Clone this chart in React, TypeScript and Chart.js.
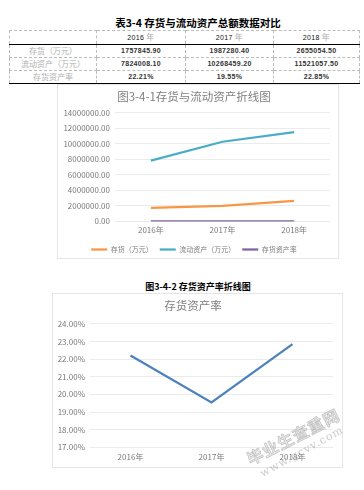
import React, { useEffect, useRef } from 'react';
import { Chart, registerables } from 'chart.js';
Chart.register(...registerables);

const yearLabels = ['2016', '2017', '2018'];
const inventory = [1757845.9, 1987280.4, 2655054.5];
const currentAssets = [7824008.1, 10268459.2, 11521057.5];
const inventoryRatio = [22.21, 19.55, 22.85];
const seriesNames = ['存货（万元）', '流动资产（万元）', '存货资产率'];
const rowNames = ['存货（万元）', '流动资产（万元）', '存货资产率'];
const seriesColors = ['#F79646', '#4BACC6', '#8064A2'];
const ratioColor = '#4F81BD';
const chart1Title = '图3-4-1存货与流动资产折线图';
const chart2Title = '存货资产率';
const tableTitle = '表3-4 存货与流动资产总额数据对比';
const figure2Caption = '图3-4-2 存货资产率折线图';
const y1Max = 14000000;
const y1Step = 2000000;
const y2Min = 17;
const y2Max = 24;
const y2Step = 1;

const FONT = '"Noto Sans CJK SC", "Noto Sans", sans-serif';
const GRAY = '#7a7a7a';
const TITLE_GRAY = '#808080';
const GRID = '#ebebeb';

function useChart(ref: React.RefObject<HTMLCanvasElement>, makeConfig: () => any) {
  useEffect(() => {
    if (!ref.current) return;
    const chart = new Chart(ref.current, makeConfig());
    return () => chart.destroy();
  }, []);
}

function Chart1() {
  const ref = useRef<HTMLCanvasElement>(null);
  useChart(ref, () => ({
    type: 'line',
    data: {
      labels: yearLabels.map((y) => y + '年'),
      datasets: [
        { label: seriesNames[0], data: inventory },
        { label: seriesNames[1], data: currentAssets },
        { label: seriesNames[2], data: inventoryRatio.map((v) => v / 100) },
      ].map((d, i) => ({
        ...d,
        borderColor: seriesColors[i],
        backgroundColor: seriesColors[i],
        borderWidth: 2.25,
        pointRadius: 0,
        tension: 0,
      })),
    },
    options: {
      animation: false,
      responsive: false,
      layout: { padding: { left: 0, right: 8, top: 0, bottom: -5 } },
      plugins: {
        title: {
          display: true,
          text: chart1Title,
          color: TITLE_GRAY,
          font: { family: FONT, size: 11.5, weight: 'normal' },
          padding: { top: 5, bottom: 9 },
        },
        legend: {
          position: 'bottom',
          labels: {
            usePointStyle: true,
            pointStyle: 'line',
            pointStyleWidth: 16,
            boxHeight: 7,
            color: GRAY,
            font: { family: FONT, size: 7 },
            padding: 7,
          },
        },
        tooltip: { enabled: false },
      },
      scales: {
        x: {
          offset: true,
          grid: { display: false, drawTicks: false },
          border: { display: false },
          ticks: { color: GRAY, font: { family: FONT, size: 8 }, padding: 4 },
        },
        y: {
          min: 0,
          max: y1Max,
          ticks: {
            stepSize: y1Step,
            color: GRAY,
            font: { family: FONT, size: 8 },
            padding: 5,
            callback: (v: any) => Number(v).toFixed(2),
          },
          grid: { color: GRID, drawTicks: false },
          border: { display: false },
          afterFit: (s: any) => {
            s.width = 57;
          },
        },
      },
    },
  }));
  return <canvas ref={ref} width={280} height={173} style={{ display: 'block' }} />;
}

function Chart2() {
  const ref = useRef<HTMLCanvasElement>(null);
  useChart(ref, () => ({
    type: 'line',
    data: {
      labels: yearLabels.map((y) => y + '年'),
      datasets: [
        {
          label: seriesNames[2],
          data: inventoryRatio,
          borderColor: ratioColor,
          backgroundColor: ratioColor,
          borderWidth: 2.25,
          pointRadius: 0,
          tension: 0,
        },
      ],
    },
    options: {
      animation: false,
      responsive: false,
      layout: { padding: { left: 0, right: 9, top: 0, bottom: 0 } },
      plugins: {
        title: {
          display: true,
          text: chart2Title,
          color: TITLE_GRAY,
          font: { family: FONT, size: 11.5, weight: 'normal' },
          padding: { top: 5, bottom: 11 },
        },
        legend: { display: false },
        tooltip: { enabled: false },
      },
      scales: {
        x: {
          offset: true,
          grid: { display: false, drawTicks: false },
          border: { display: false },
          ticks: { color: GRAY, font: { family: FONT, size: 8 }, padding: 5 },
        },
        y: {
          min: y2Min,
          max: y2Max,
          ticks: {
            stepSize: y2Step,
            color: GRAY,
            font: { family: FONT, size: 8 },
            padding: 5,
            callback: (v: any) => Number(v).toFixed(2) + '%',
          },
          grid: { color: GRID, drawTicks: false },
          border: { display: false },
          afterFit: (s: any) => {
            s.width = 37;
          },
        },
      },
    },
  }));
  return <canvas ref={ref} width={289} height={173} style={{ display: 'block' }} />;
}

const dash = '1px dashed #bdbdbd';
const cellBase: React.CSSProperties = {
  height: 12,
  padding: 0,
  textAlign: 'center',
  verticalAlign: 'middle',
  borderLeft: dash,
  borderRight: dash,
  borderBottom: dash,
  lineHeight: '12px',
  whiteSpace: 'nowrap',
};

function DataTable() {
  const rows = [
    inventory.map((v) => v.toFixed(2)),
    currentAssets.map((v) => v.toFixed(2)),
    inventoryRatio.map((v) => v.toFixed(2) + '%'),
  ];
  const numStyle: React.CSSProperties = {
    ...cellBase,
    fontFamily: '"Liberation Sans", sans-serif',
    fontSize: 7,
    fontWeight: 'bold',
    color: '#333',
    letterSpacing: 0.3,
  };
  const labelStyle: React.CSSProperties = {
    ...cellBase,
    fontFamily: FONT,
    fontSize: 8,
    color: '#b0b0b0',
  };
  return (
    <table
      style={{
        position: 'absolute',
        left: 9,
        top: 30,
        width: 350,
        borderCollapse: 'collapse',
        tableLayout: 'fixed',
      }}
    >
      <colgroup>
        <col style={{ width: 87 }} />
        <col style={{ width: 89 }} />
        <col style={{ width: 88 }} />
        <col style={{ width: 86 }} />
      </colgroup>
      <tbody>
        <tr>
          <td style={{ ...labelStyle, borderTop: dash, borderBottom: '1.5px solid #000' }}></td>
          {yearLabels.map((y) => (
            <td key={y} style={{ ...numStyle, fontWeight: 'normal', color: '#111', borderTop: dash, borderBottom: '1.5px solid #000' }}>
              {y} <span style={{ fontFamily: FONT, fontSize: 8, color: '#aaa' }}>年</span>
            </td>
          ))}
        </tr>
        {rows.map((r, i) => (
          <tr key={i}>
            <td style={{ ...labelStyle, borderBottom: i === rows.length - 1 ? '1.5px solid #000' : dash }}>{rowNames[i]}</td>
            {r.map((v, j) => (
              <td key={j} style={{ ...numStyle, borderBottom: i === rows.length - 1 ? '1.5px solid #000' : dash }}>
                {v}
              </td>
            ))}
          </tr>
        ))}
      </tbody>
    </table>
  );
}

export default function App() {
  return (
    <div style={{ position: 'absolute', left: 0, top: 0, width: 364, height: 490, background: '#fff', overflow: 'hidden' }}>
      <div
        style={{
          position: 'absolute',
          left: 0,
          width: 364,
          textAlign: 'center',
          top: 16,
          fontFamily: FONT,
          fontWeight: 'bold',
          fontSize: 10.5,
          lineHeight: '14px',
          color: '#000',
          paddingLeft: 32,
          boxSizing: 'border-box',
        }}
      >
        {tableTitle}
      </div>
      <DataTable />
      <div style={{ position: 'absolute', left: 57, top: 84, border: '1px solid #e6e6e6' }}>
        <Chart1 />
      </div>
      <div
        style={{
          position: 'absolute',
          left: 0,
          width: 364,
          textAlign: 'center',
          top: 280,
          fontFamily: FONT,
          fontWeight: 'bold',
          fontSize: 9,
          lineHeight: '14px',
          color: '#000',
          paddingLeft: 32,
          boxSizing: 'border-box',
        }}
      >
        {figure2Caption}
      </div>
      <div style={{ position: 'absolute', left: 52, top: 293, border: '1px solid #e6e6e6' }}>
        <Chart2 />
      </div>
      <div
        style={{
          position: 'absolute',
          left: 238,
          top: 427,
          width: 110,
          textAlign: 'center',
          transform: 'rotate(-27deg)',
          fontFamily: FONT,
          fontWeight: 'bold',
          fontSize: 16,
          lineHeight: '18px',
          color: 'rgba(170,170,170,0.3)',
          WebkitTextStroke: '0.6px rgba(140,140,140,0.5)',
          letterSpacing: 1,
        }}
      >
        毕业生查重网
      </div>
      <div
        style={{
          position: 'absolute',
          left: 252,
          top: 446,
          width: 100,
          textAlign: 'center',
          transform: 'rotate(-29deg)',
          fontFamily: '"DejaVu Serif", serif',
          fontSize: 11,
          lineHeight: '12px',
          color: 'rgba(150,150,150,0.5)',
          letterSpacing: 1,
        }}
      >
        www.gcvv.com
      </div>
    </div>
  );
}
